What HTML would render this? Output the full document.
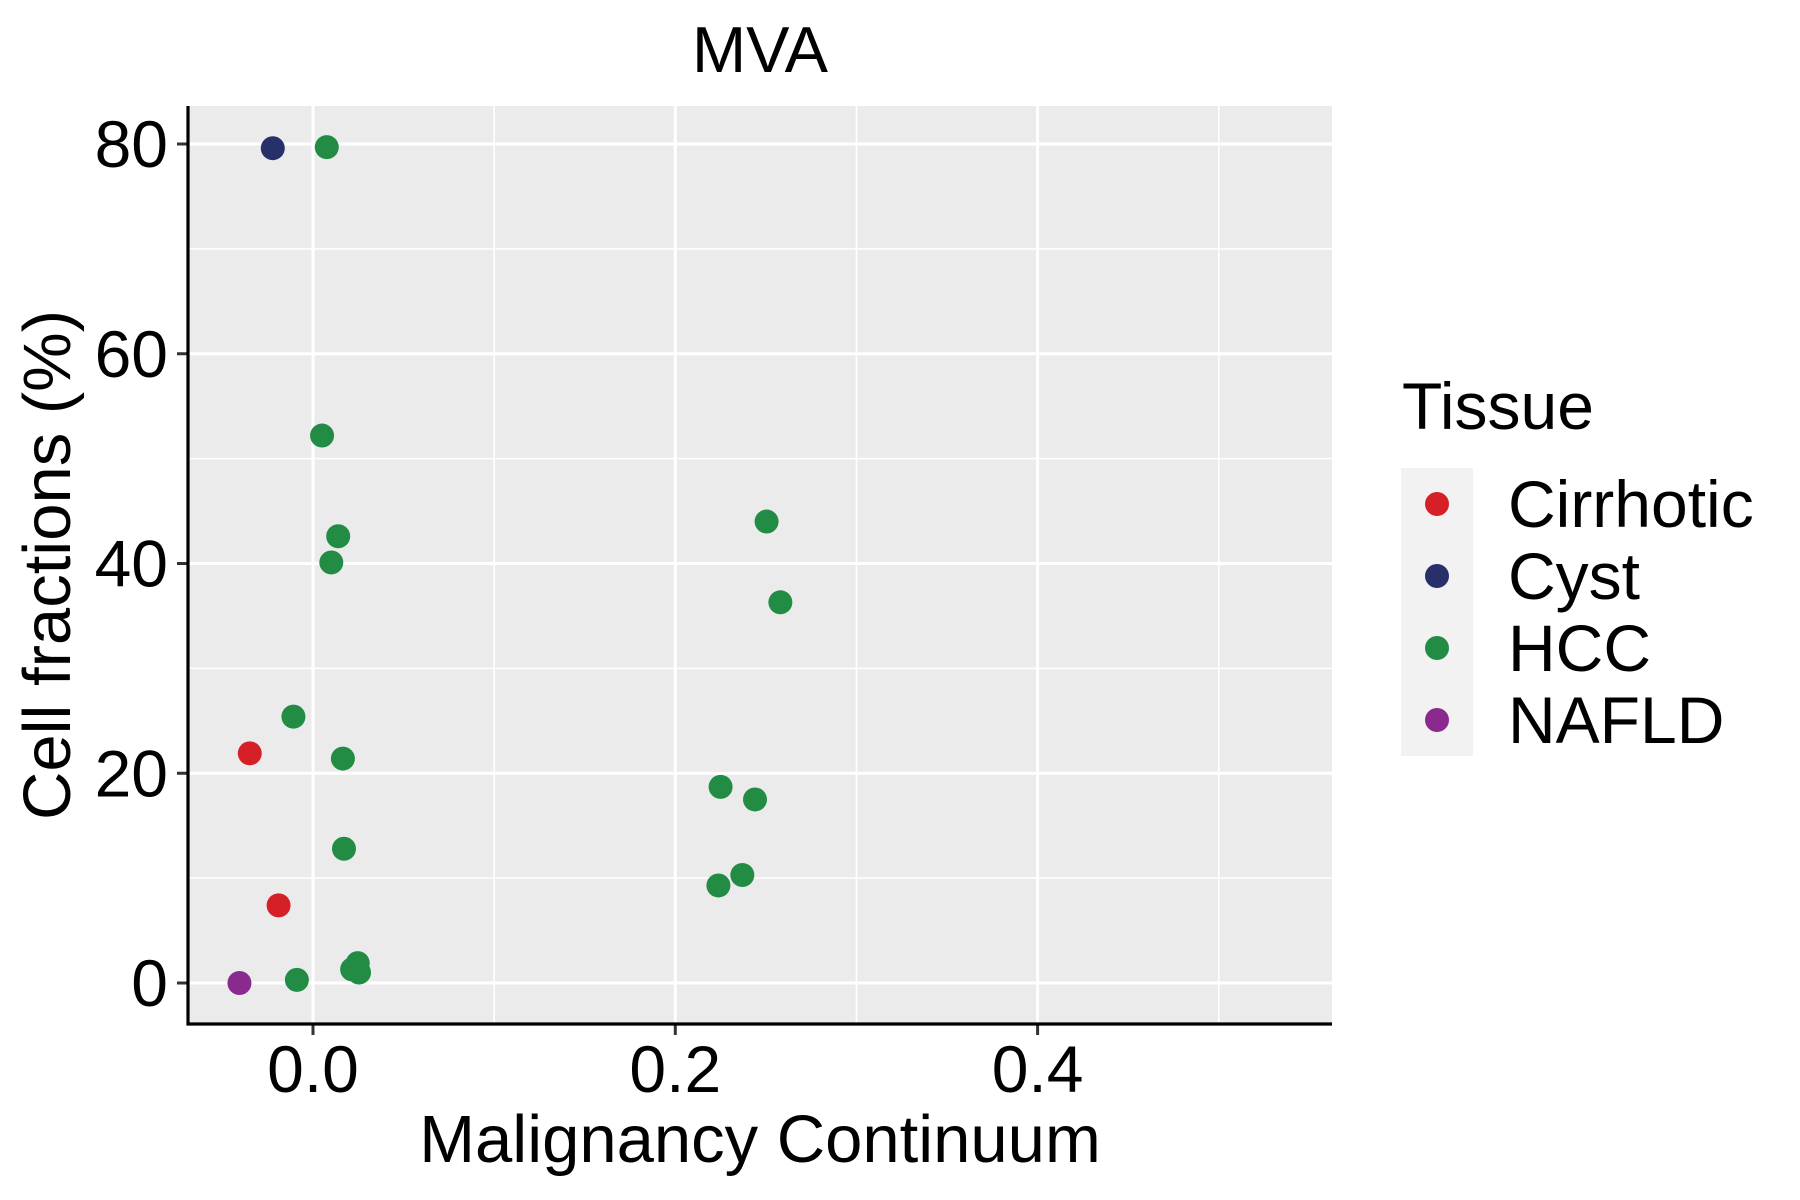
<!DOCTYPE html>
<html><head><meta charset="utf-8"><style>
html,body{margin:0;padding:0;background:#fff;}
svg{display:block;font-family:"Liberation Sans",sans-serif;}
</style></head><body>
<svg id="chart" width="1800" height="1200" viewBox="0 0 1800 1200">
<rect x="0" y="0" width="1800" height="1200" fill="#fff"/>
<text x="760" y="72" font-size="65" text-anchor="middle">MVA</text>
<g id="panel"></g>
<text x="760" y="1162" font-size="67" text-anchor="middle">Malignancy Continuum</text>
<text transform="translate(70,565) rotate(-90)" font-size="67" text-anchor="middle">Cell fractions (%)</text>
<g id="legend">
<text x="1402" y="429" font-size="66">Tissue</text>
<rect x="1401" y="468" width="72" height="288" fill="#f2f2f2"/>
</g>
</svg>
<script>
const categories = ["Cirrhotic","Cyst","HCC","NAFLD"];
const colors = ["#d62028","#283069","#228b44","#8a2a8f"];
const cirrhoticX = [-0.0349,-0.019];
const cirrhoticY = [21.9,7.4];
const cystX = [-0.0222];
const cystY = [79.6];
const hccX = [0.0076,0.005,0.0139,0.0101,-0.0108,0.0165,0.0171,-0.0089,0.0216,0.0247,0.0254,0.2504,0.258,0.225,0.244,0.237,0.2238];
const hccY = [79.7,52.2,42.6,40.1,25.4,21.4,12.8,0.3,1.3,1.9,1.0,44.0,36.3,18.7,17.5,10.3,9.3];
const nafldX = [-0.0406];
const nafldY = [0.0];
const xTicks = [0.0,0.2,0.4];
const xTickLabels = ["0.0","0.2","0.4"];
const xMinor = [0.1,0.3,0.5];
const yTicks = [0,20,40,60,80];
const yTickLabels = ["0","20","40","60","80"];
const yMinor = [10,30,50,70];

const NS="http://www.w3.org/2000/svg";
const L=188,R=1332,T=106,B=1024;
const xScale=v=>313+v*1811.5;
const yScale=v=>983-v*10.4875;
const panel=document.getElementById('panel');
function mk(tag,attrs,parent){const e=document.createElementNS(NS,tag);for(const k in attrs)e.setAttribute(k,attrs[k]);(parent||panel).appendChild(e);return e;}
let bg=mk('rect',{x:L,y:T,width:R-L,height:B-T,fill:'#ebebeb'});


xMinor.forEach(v=>{const l=mk('line',{x1:xScale(v),x2:xScale(v),y1:T,y2:B,stroke:'#fff','stroke-width':1.6});

});
yMinor.forEach(v=>{const l=mk('line',{x1:L,x2:R,y1:yScale(v),y2:yScale(v),stroke:'#fff','stroke-width':1.6});

});
xTicks.forEach((v,i)=>{const l=mk('line',{x1:xScale(v),x2:xScale(v),y1:T,y2:B,stroke:'#fff','stroke-width':3});


const t=mk('line',{x1:xScale(v),x2:xScale(v),y1:B,y2:B+11,stroke:'#333','stroke-width':3});


const tx=mk('text',{x:xScale(v),y:1092,'font-size':66,'text-anchor':'middle',fill:'#000'});tx.textContent=xTickLabels[i];

});
yTicks.forEach((v,i)=>{const l=mk('line',{x1:L,x2:R,y1:yScale(v),y2:yScale(v),stroke:'#fff','stroke-width':3});


const t=mk('line',{x1:L-11,x2:L,y1:yScale(v),y2:yScale(v),stroke:'#333','stroke-width':3});


const tx=mk('text',{x:L-20,y:yScale(v)+23,'font-size':66,'text-anchor':'end',fill:'#000'});tx.textContent=yTickLabels[i];

});
const series=[[cirrhoticX,cirrhoticY],[cystX,cystY],[hccX,hccY],[nafldX,nafldY]];
series.forEach((s,si)=>{s[0].forEach((xv,j)=>{const c=mk('circle',{cx:xScale(xv),cy:yScale(s[1][j]),r:12,fill:colors[si]});

});});
let ax=mk('line',{x1:L,x2:L,y1:T,y2:B+1.5,stroke:'#000','stroke-width':3.2});


let ax2=mk('line',{x1:L-1.5,x2:R,y1:B,y2:B,stroke:'#000','stroke-width':3.2});


const lg=document.getElementById('legend');
categories.forEach((c,i)=>{const y=504+i*72;
const d=mk('circle',{cx:1437,cy:y,r:12,fill:colors[i]},lg);


const t=mk('text',{x:1508,y:y+23,'font-size':66,fill:'#000'},lg);t.textContent=c;

});
</script>
</body></html>
